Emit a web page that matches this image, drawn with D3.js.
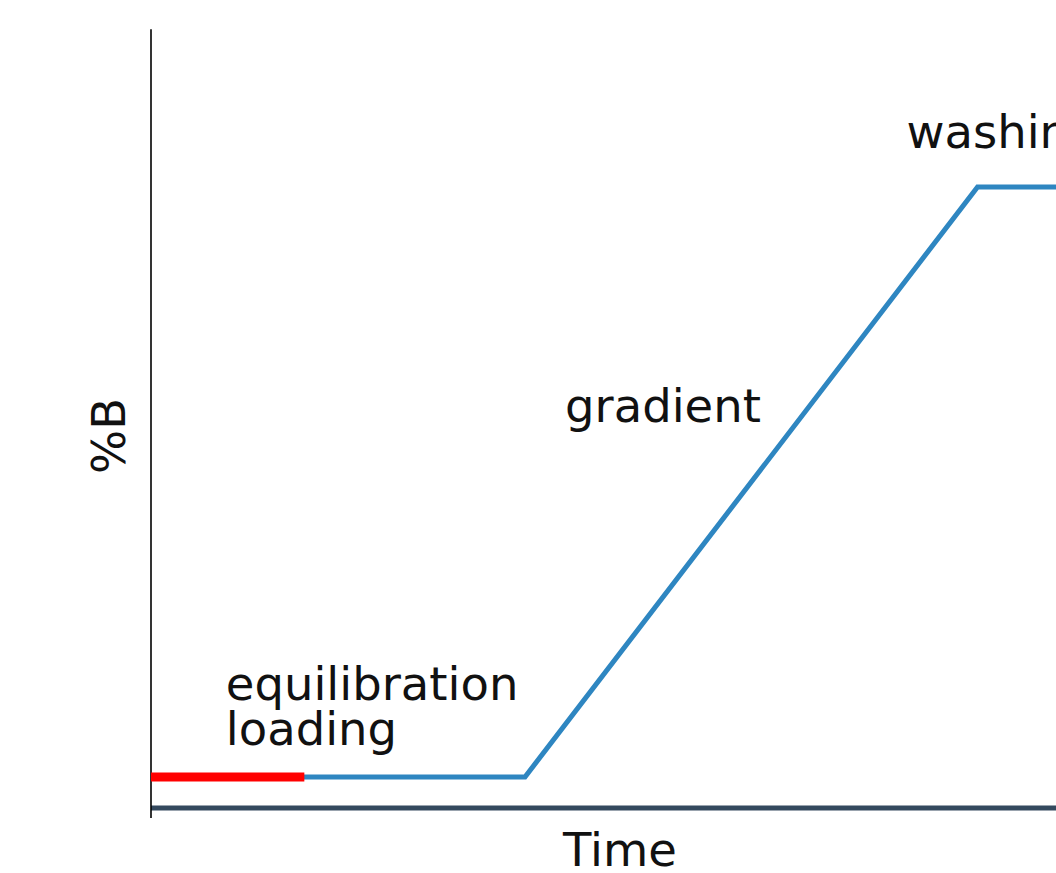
<!DOCTYPE html>
<html>
<head>
<meta charset="utf-8">
<script src="https://cdn.jsdelivr.net/npm/d3@7"></script>
<style>
  html, body { margin: 0; padding: 0; background: #fff; overflow: hidden; }
  text { font-family: "DejaVu Sans", sans-serif; fill: #111; }
</style>
</head>
<body>
<div id="chart"></div>
<script>
// gradient profile (time units, %B)
const profileTime = [0, 10, 22.1, 30];
const profileB = [5, 5, 100, 100];

// sample loading window
const loadTime = [0, 4.1];
const loadB = [5, 5];

// phase labels
const labelText = ["equilibration", "loading", "gradient", "washing"];
const labelTime = [2, 2, 11.07, 20.2];
const labelB = [17.4, 10.1, 62.2, 106.3];

const width = 1056, height = 873;
const fontSize = 46.5;

const x = d3.scaleLinear().domain([0, 10]).range([151, 525]);
const y = d3.scaleLinear().domain([0, 100]).range([808, 187]);

const svg = d3.select("#chart")
    .append("svg")
    .attr("width", width)
    .attr("height", height);

// baseline (0 %B)
svg.append("line")
    .attr("x1", x(0)).attr("x2", x(30))
    .attr("y1", y(0)).attr("y2", y(0))
    .attr("stroke", "#34495e")
    .attr("stroke-width", 5);

// left spine
svg.append("line")
    .attr("x1", x(0)).attr("x2", x(0))
    .attr("y1", y(-1.6)).attr("y2", y(125.4))
    .attr("stroke", "#000")
    .attr("stroke-width", 1.6);

const line = d3.line()
    .x(d => x(d[0]))
    .y(d => y(d[1]));

svg.append("path")
    .datum(d3.zip(profileTime, profileB))
    .attr("d", line)
    .attr("fill", "none")
    .attr("stroke", "#2e86c1")
    .attr("stroke-width", 5)
    .attr("stroke-linejoin", "miter");

svg.append("path")
    .datum(d3.zip(loadTime, loadB))
    .attr("d", line)
    .attr("fill", "none")
    .attr("stroke", "#ff0000")
    .attr("stroke-width", 9);

svg.selectAll(".phase")
    .data(labelText)
    .enter()
    .append("text")
    .attr("class", "phase")
    .attr("x", (d, i) => x(labelTime[i]))
    .attr("y", (d, i) => y(labelB[i]))
    .attr("font-size", fontSize)
    .text(d => d);

svg.append("text")
    .attr("x", 620)
    .attr("y", 866)
    .attr("text-anchor", "middle")
    .attr("font-size", fontSize)
    .text("Time");

svg.append("text")
    .attr("transform", "translate(125,436) rotate(-90)")
    .attr("text-anchor", "middle")
    .attr("font-size", fontSize)
    .text("%B");
</script>
</body>
</html>
